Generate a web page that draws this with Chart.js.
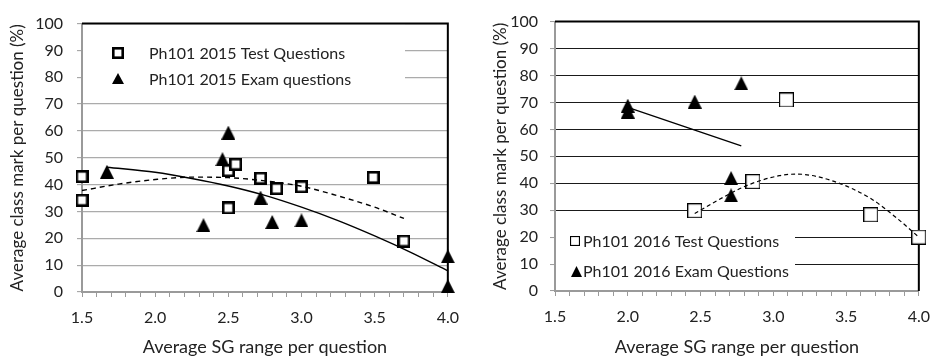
<!DOCTYPE html>
<html><head><meta charset="utf-8">
<script src="https://cdn.jsdelivr.net/npm/chart.js@4"></script>
<style>
html,body{margin:0;padding:0;background:#fff;}
#wrap{position:relative;width:941px;height:358px;overflow:hidden;background:#fff}
canvas{position:absolute;top:0}
</style>
</head><body>
<div id="wrap">
<canvas id="c1" width="470" height="358" style="left:0"></canvas>
<canvas id="c2" width="471" height="358" style="left:470px"></canvas>
</div>
<script>
// ---- tick labels ----
const xTickLabels = [1.5, 2.0, 2.5, 3.0, 3.5, 4.0];
const yTickLabels = [0, 10, 20, 30, 40, 50, 60, 70, 80, 90, 100];

// ---- Ph101 2015 (left) ----
const test2015X = [1.5, 1.5, 2.5, 2.55, 2.5, 2.72, 2.83, 3.0, 3.49, 3.7];
const test2015Y = [43.0, 34.2, 45.2, 47.6, 31.3, 42.4, 38.5, 39.2, 42.7, 19.0];
const exam2015X = [1.67, 2.5, 2.46, 2.33, 2.72, 2.80, 3.0, 4.0, 4.0];
const exam2015Y = [44.8, 59.4, 49.5, 24.9, 35.2, 26.1, 26.7, 13.3, 2.2];
// trendlines
const trendTest2015X = [1.5, 1.75, 2.0, 2.25, 2.5, 2.75, 3.0, 3.25, 3.5, 3.7];
const trendTest2015Y = [37.8, 40.2, 41.9, 42.8, 42.6, 41.4, 39.4, 35.8, 31.6, 27.4];
const trendExam2015X = [1.67, 2.0, 2.25, 2.5, 2.75, 3.0, 3.25, 3.5, 3.75, 4.0];
const trendExam2015Y = [46.5, 44.6, 42.3, 39.5, 36.0, 31.6, 26.6, 20.9, 14.7, 7.9];

// ---- Ph101 2016 (right) ----
const test2016X = [2.46, 2.86, 3.09, 3.67, 4.0];
const test2016Y = [29.8, 40.6, 70.9, 28.3, 20.0];
const exam2016X = [2.0, 2.0, 2.46, 2.78, 2.71, 2.71];
const exam2016Y = [68.8, 66.6, 70.3, 77.1, 41.9, 35.5];
const trendTest2016X = [2.46, 2.66, 2.82, 3.04, 3.16, 3.4, 3.67, 3.85, 4.0];
const trendTest2016Y = [28.8, 34.9, 39.2, 42.8, 43.4, 41.0, 34.3, 27.0, 20.0];
const trendExam2016X = [2.0, 2.78];
const trendExam2016Y = [68.2, 53.9];

const pts = (xs, ys) => xs.map((x, i) => ({x: x, y: ys[i]}));

// ---- marker images ----
function squareImg(size, bw) {
  const c = document.createElement('canvas'); c.width = size; c.height = size;
  const g = c.getContext('2d');
  g.fillStyle = '#fff'; g.fillRect(0, 0, size, size);
  g.strokeStyle = '#000'; g.lineWidth = bw;
  g.strokeRect(bw / 2, bw / 2, size - bw, size - bw);
  return c;
}
function triImg(w, h) {
  const c = document.createElement('canvas'); c.width = w; c.height = h;
  const g = c.getContext('2d');
  g.fillStyle = '#000';
  g.beginPath(); g.moveTo(w / 2, 0); g.lineTo(w, h); g.lineTo(0, h); g.closePath(); g.fill();
  return c;
}
const sqL = squareImg(13, 2.6), triL = triImg(14, 14);
const sqR = squareImg(15, 1.2), triR = triImg(14, 14);
const sqLegL = squareImg(12, 2.6), triLegL = triImg(12, 11);
const sqLegR = squareImg(10, 1.1), triLegR = triImg(11, 11);

const FONT = 'Lato, "Open Sans", sans-serif';
const TXT = '#222';

const framePlugin = {
  id: 'frame',
  beforeDatasetsDraw(chart, args, o) {
    const ctx = chart.ctx, a = chart.chartArea;
    ctx.save();
    // legend box
    const lb = o.legend;
    const bx = a.left + lb.dx, by = lb.fromBottom ? a.bottom - lb.dy : a.top + lb.dy;
    ctx.fillStyle = '#fff';
    ctx.fillRect(bx, by, lb.w, lb.h);
    ctx.font = lb.font;
    ctx.fillStyle = TXT;
    ctx.textBaseline = 'middle';
    ctx.textAlign = 'left';
    lb.items.forEach(it => {
      const my = lb.fromBottom ? a.bottom - it.y : a.top + it.y;
      const mx = a.left + it.mx;
      ctx.drawImage(it.img, Math.round(mx - it.img.width / 2), Math.round(my - it.img.height / 2));
      ctx.fillText(it.text, a.left + it.tx, my + 1);
    });
    // black top & right border
    ctx.strokeStyle = '#000';
    ctx.lineWidth = o.borderWidth;
    ctx.beginPath();
    ctx.moveTo(a.left, a.top); ctx.lineTo(a.right, a.top); ctx.lineTo(a.right, a.bottom);
    ctx.stroke();
    ctx.restore();
  }
};

function makeChart(id, cfg) {
  const minorX = [];
  for (let i = 15; i <= 40; i++) minorX.push(i / 10);
  return new Chart(document.getElementById(id), {
    type: 'scatter',
    data: {datasets: cfg.datasets},
    plugins: [framePlugin],
    options: {
      responsive: false, animation: false, devicePixelRatio: 1,
      layout: {padding: {top: cfg.padTop, right: cfg.padRight, left: 0, bottom: 0}},
      plugins: {legend: {display: false}, tooltip: {enabled: false}, frame: cfg.frame},
      scales: {
        x: {
          type: 'linear', min: 1.5, max: 4.0,
          afterBuildTicks: ax => { ax.ticks = minorX.map(v => ({value: v})); },
          afterFit: ax => { ax.height = cfg.xAxisH; },
          ticks: {
            autoSkip: false, maxRotation: 0, padding: 11, color: TXT,
            font: {family: FONT, size: 16},
            callback: v => (xTickLabels.some(t => Math.abs(t - v) < 1e-6) ? v.toFixed(1) : '')
          },
          grid: {drawOnChartArea: false, drawTicks: true, tickLength: 5, color: '#9a9a9a', lineWidth: 1},
          border: {display: true, color: '#9a9a9a', width: 2},
          title: {display: true, text: 'Average SG range per question', color: TXT,
                  font: {family: FONT, size: 18}, padding: {top: 0, bottom: 0}}
        },
        y: {
          min: 0, max: 100,
          afterBuildTicks: ax => { ax.ticks = yTickLabels.map(v => ({value: v})); },
          afterFit: ax => { ax.width = cfg.yAxisW; },
          ticks: {padding: cfg.yTickPad, color: TXT, font: {family: FONT, size: 16}},
          grid: {color: cfg.gridColor, lineWidth: cfg.gridWidth, tickLength: 5, tickColor: '#9a9a9a', tickWidth: 1},
          border: {display: true, color: '#9a9a9a', width: 2},
          title: {display: true, text: 'Average class mark per question (%)', color: TXT,
                  font: {family: FONT, size: 17}, padding: {top: cfg.yTitlePad, bottom: 0}}
        }
      }
    }
  });
}

const trend = (xs, ys, dash, w) => ({
  data: pts(xs, ys), showLine: true, pointRadius: 0, pointHoverRadius: 0, clip: false,
  borderColor: '#000', borderWidth: w, borderDash: dash, cubicInterpolationMode: 'monotone', fill: false
});
const marks = (label, xs, ys, img) => ({
  label: label, data: pts(xs, ys), showLine: false, pointStyle: img, clip: false,
  pointRadius: 7, pointHoverRadius: 7, backgroundColor: '#000', borderColor: '#000'
});

makeChart('c1', {
  padTop: 17, padRight: 18, xAxisH: 66, yAxisW: 82, yTickPad: 14, yTitlePad: 7,
  gridColor: '#ababab', gridWidth: 1.3,
  datasets: [
    trend(trendTest2015X, trendTest2015Y, [5, 4], 1.4),
    trend(trendExam2015X, trendExam2015Y, [], 1.4),
    marks('Ph101 2015 Test Questions', test2015X, test2015Y, sqL),
    marks('Ph101 2015 Exam questions', exam2015X, exam2015Y, triL)
  ],
  frame: {
    borderWidth: 2,
    legend: {dx: 1, dy: 1, w: 322, h: 68, fromBottom: false, font: '16px ' + FONT,
      items: [
        {img: sqLegL, mx: 36, y: 29, tx: 67, text: 'Ph101 2015 Test Questions'},
        {img: triLegL, mx: 36, y: 55, tx: 67, text: 'Ph101 2015 Exam questions'}
      ]}
  }
});

makeChart('c2', {
  padTop: 16, padRight: 16, xAxisH: 67, yAxisW: 85, yTickPad: 12, yTitlePad: 20,
  gridColor: '#1a1a1a', gridWidth: 1.1,
  datasets: [
    trend(trendTest2016X, trendTest2016Y, [4, 3], 1.2),
    trend(trendExam2016X, trendExam2016Y, [], 1.3),
    marks('Ph101 2016 Test Questions', test2016X, test2016Y, sqR),
    marks('Ph101 2016 Exam Questions', exam2016X, exam2016Y, triR)
  ],
  frame: {
    borderWidth: 2,
    legend: {dx: 1, dy: 69, w: 239, h: 68, fromBottom: true, font: '16px ' + FONT,
      items: [
        {img: sqLegR, mx: 20, y: 50, tx: 28, text: 'Ph101 2016 Test Questions'},
        {img: triLegR, mx: 21, y: 20, tx: 28, text: 'Ph101 2016 Exam Questions'}
      ]}
  }
});
</script>
</body></html>
